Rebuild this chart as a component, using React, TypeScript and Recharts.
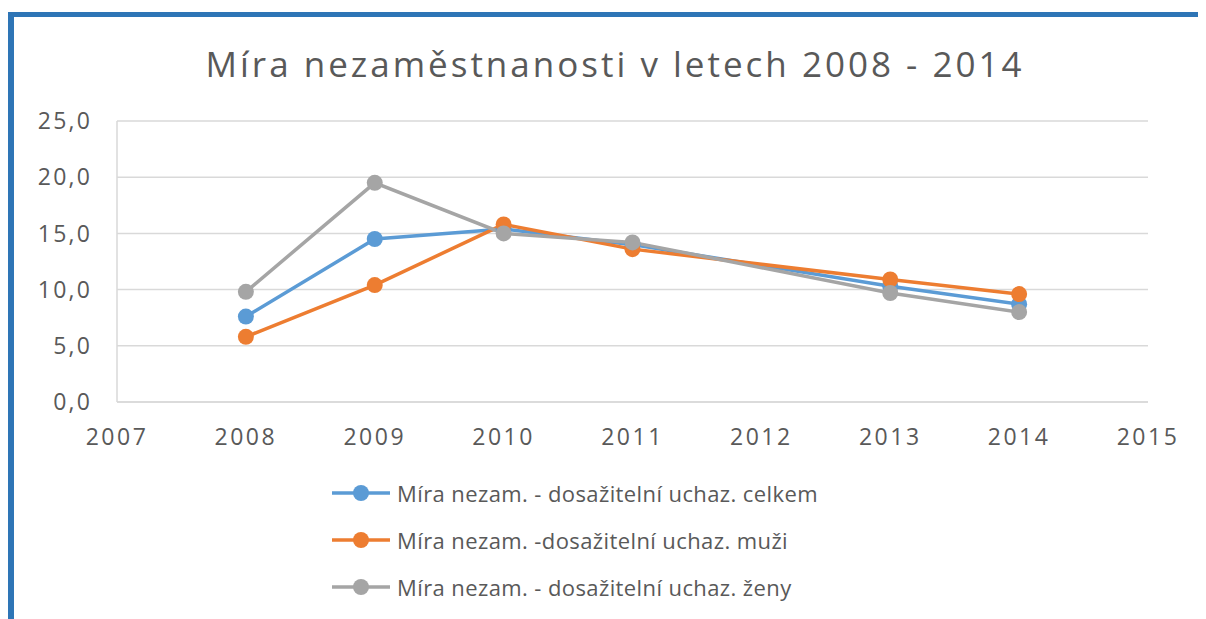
import { LineChart, Line, XAxis, YAxis, CartesianGrid, Legend } from 'recharts';

const years = [2008, 2009, 2010, 2011, 2013, 2014];
const celkem = [7.6, 14.5, 15.4, 14.0, 10.3, 8.7];
const muzi = [5.8, 10.4, 15.8, 13.6, 10.9, 9.6];
const zeny = [9.8, 19.5, 15.0, 14.2, 9.7, 8.0];
const xTicks = [2007, 2008, 2009, 2010, 2011, 2012, 2013, 2014, 2015];
const yTicks = [0, 5, 10, 15, 20, 25];

const seriesInfo = [
  { key: 'celkem', name: 'Míra nezam. - dosažitelní uchaz. celkem', color: '#5b9bd5' },
  { key: 'muzi', name: 'Míra nezam. -dosažitelní uchaz. muži', color: '#ed7d31' },
  { key: 'zeny', name: 'Míra nezam. - dosažitelní uchaz. ženy', color: '#a5a5a5' },
];

const data = years.map((year, i) => ({
  year,
  celkem: celkem[i],
  muzi: muzi[i],
  zeny: zeny[i],
}));

const FONT = '"Open Sans", sans-serif';
const TEXT = '#595959';

const LegendBox = () => (
  <div>
    {seriesInfo.map((s) => (
      <div key={s.key} style={{ display: 'flex', alignItems: 'center', height: 47 }}>
        <svg width={65} height={20}>
          <line x1={0} y1={10} x2={58} y2={10} stroke={s.color} strokeWidth={3.5} />
          <circle cx={29} cy={10} r={8} fill={s.color} />
        </svg>
        <span
          style={{
            fontFamily: FONT,
            fontSize: 22,
            letterSpacing: 0.4,
            color: TEXT,
            whiteSpace: 'nowrap',
          }}
        >
          {s.name}
        </span>
      </div>
    ))}
  </div>
);

export default function App() {
  return (
    <div style={{ position: 'relative', width: 1198, height: 611 }}>
      <div
        style={{
          position: 'absolute',
          left: 0,
          top: 4,
          width: 1220,
          height: 620,
          borderLeft: '6px solid #2e75b6',
          borderTop: '5px solid #2e75b6',
          boxSizing: 'border-box',
        }}
      />
      <div style={{ position: 'absolute', left: 0, top: 0 }}>
        <LineChart
          width={1198}
          height={611}
          data={data}
          margin={{ top: 113, right: 58, left: 49, bottom: 187 }}
        >
          <text
            x={607}
            y={69}
            textAnchor="middle"
            style={{ fontFamily: FONT, fontSize: 35, fill: TEXT, letterSpacing: 3 }}
          >
            Míra nezaměstnanosti v letech 2008 - 2014
          </text>
          <CartesianGrid vertical={false} stroke="#d9d9d9" strokeWidth={1.5} />
          <XAxis
            dataKey="year"
            type="number"
            domain={[2007, 2015]}
            ticks={xTicks}
            tickLine={false}
            axisLine={{ stroke: '#d9d9d9', strokeWidth: 1.5 }}
            tickMargin={21}
            height={30}
            tick={{ fill: TEXT, fontSize: 23, fontFamily: FONT, letterSpacing: 2.5 }}
          />
          <YAxis
            type="number"
            domain={[0, 25]}
            ticks={yTicks}
            tickLine={false}
            axisLine={{ stroke: '#d9d9d9', strokeWidth: 1.5 }}
            tickMargin={19}
            width={60}
            tickFormatter={(v: number) => v.toFixed(1).replace('.', ',')}
            tick={{ fill: TEXT, fontSize: 23, fontFamily: FONT, letterSpacing: 2.2 }}
          />
          <Legend
            layout="vertical"
            align="center"
            verticalAlign="middle"
            content={() => <LegendBox />}
            wrapperStyle={{ left: 324, top: 461, width: 'auto' }}
          />
          {seriesInfo.map((s) => (
            <Line
              key={s.key}
              dataKey={s.key}
              name={s.name}
              type="linear"
              stroke={s.color}
              strokeWidth={3.5}
              dot={{ r: 8, fill: s.color, stroke: s.color, strokeWidth: 0 }}
              activeDot={false}
              isAnimationActive={false}
            />
          ))}
        </LineChart>
      </div>
    </div>
  );
}
